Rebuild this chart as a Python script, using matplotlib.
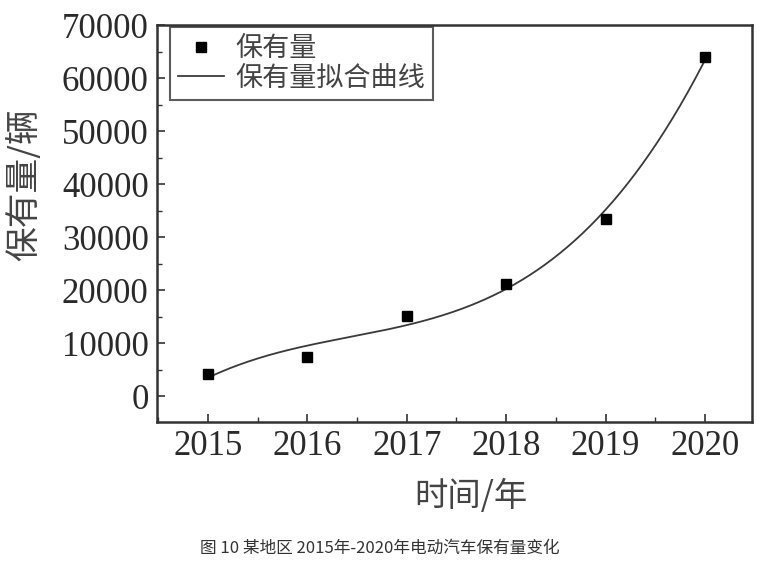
import numpy as np
import matplotlib
matplotlib.use("Agg")
import matplotlib.pyplot as plt
from matplotlib.ticker import AutoMinorLocator

years = [2015, 2016, 2017, 2018, 2019, 2020]
stock = [4150, 7350, 15100, 21100, 33400, 64000]
xtick_labels = ["2015", "2016", "2017", "2018", "2019", "2020"]
ytick_values = [0, 10000, 20000, 30000, 40000, 50000, 60000, 70000]

cjk = ["Noto Sans CJK SC", "DejaVu Sans"]
serif = "Liberation Serif"
txt_color = "#2a2a2a"

fig = plt.figure(figsize=(7.83, 5.66), dpi=100)
ax = fig.add_axes([157/783, 1-422/566, (752-157)/783, (422-25)/566])

# cubic fit curve (the chart's "拟合曲线")
coef = np.polyfit(np.array(years) - 2015, stock, 3)
xs = np.linspace(2015, 2020, 200)
ax.plot(xs, np.polyval(coef, xs - 2015), color="#3a3a3a", lw=1.3, label="保有量拟合曲线", zorder=2)
ax.plot(years, stock, linestyle="none", marker="s", ms=6.5, color="black", label="保有量", zorder=3)

ax.set_xlim(2014.487, 2020.473)
ax.set_ylim(-4900, 70000)
ax.set_xticks(years)
ax.set_xticklabels(xtick_labels)
ax.set_yticks(ytick_values)
ax.set_yticklabels([str(v) for v in ytick_values])
ax.xaxis.set_minor_locator(AutoMinorLocator(2))
ax.yaxis.set_minor_locator(AutoMinorLocator(2))
ax.tick_params(which="major", direction="in", length=6, width=1.2, colors="#333333",
               labelsize=25, labelcolor=txt_color, top=False, right=False, pad=6)
ax.tick_params(which="minor", direction="in", length=3.5, width=1.0, colors="#333333",
               top=False, right=False)
for lab in ax.get_xticklabels() + ax.get_yticklabels():
    lab.set_fontfamily(serif)
for sp in ax.spines.values():
    sp.set_linewidth(1.8)
    sp.set_color("#333333")

fig.text(471/783, 1-497/566, "时间/年", family=cjk, fontsize=24, color="#444444",
         ha="center", va="center")
fig.text(25/783, 1-185/566, "保有量/辆", family=cjk, fontsize=25, color="#444444",
         ha="center", va="center", rotation=90)

h, l = ax.get_legend_handles_labels()
leg = ax.legend([h[1], h[0]], [l[1], l[0]], loc="upper left", bbox_to_anchor=(0.022, 0.995),
                prop={"family": cjk, "size": 19.5}, frameon=True, fancybox=False,
                borderpad=0.3, labelspacing=0.1, handlelength=1.7, handletextpad=0.4,
                borderaxespad=0.0)
leg.get_frame().set_edgecolor("#333333")
leg.get_frame().set_linewidth(1.5)
for t in leg.get_texts():
    t.set_color("#444444")

fig.text(380/783, 1-548/566, "图 10 某地区 2015年-2020年电动汽车保有量变化", family=cjk,
         fontsize=12, color="#333333", ha="center", va="center")

fig.savefig("out.png", dpi=100, facecolor="white")
